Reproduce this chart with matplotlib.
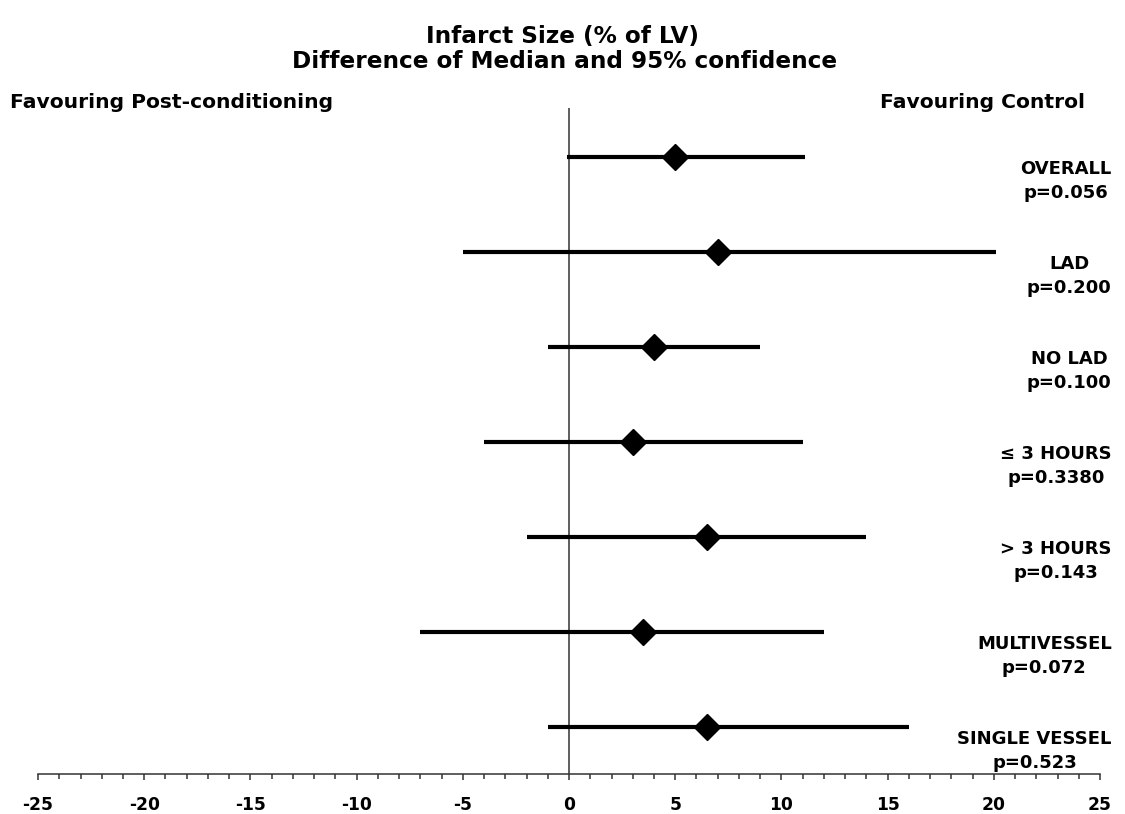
import numpy as np
import matplotlib
matplotlib.use("Agg")
import matplotlib.pyplot as plt
from matplotlib.ticker import MultipleLocator

plt.rcParams['font.family'] = ['DejaVu Sans']
plt.rcParams['font.weight'] = 'bold'

# data
groups = ['OVERALL', 'LAD', 'NO LAD', '\u2264 3 HOURS', '> 3 HOURS', 'MULTIVESSEL', 'SINGLE VESSEL']
pvals = ['p=0.056', 'p=0.200', 'p=0.100', 'p=0.3380', 'p=0.143', 'p=0.072', 'p=0.523']
median = [5.0, 7.0, 4.0, 3.0, 6.5, 3.5, 6.5]
ci_low = [-0.1, -5.0, -1.0, -4.0, -2.0, -7.0, -1.0]
ci_high = [11.1, 20.1, 9.0, 11.0, 14.0, 12.0, 16.0]
xticks = np.arange(-25, 26, 5)

fig = plt.figure(figsize=(11.25, 8.14), dpi=100)
ax = fig.add_axes([0.0338, 0.049, 0.944, 0.818])

ypos = np.arange(len(groups))
ax.hlines(ypos, ci_low, ci_high, color='black', lw=3.0, zorder=2)
ax.plot(median, ypos, 'D', color='black', ms=13, zorder=3)
ax.axvline(0, color='#333333', lw=1.1, zorder=1)

# group label + p value, second line centred under the first
for y, g, p in zip(ypos, groups, pvals):
    ax.text(25.55, y + 0.25, g + '\n' + p, ha='right', va='center', multialignment='center',
            linespacing=1.4, fontsize=13, fontweight='bold')

ax.set_xlim(-25, 25)
ax.set_ylim(6.495, -0.516)
ax.set_xticks(xticks)
ax.set_xticklabels([str(t) for t in xticks], fontsize=12.3, fontweight='bold')
ax.xaxis.set_minor_locator(MultipleLocator(1))
ax.tick_params(axis='x', which='major', direction='out', length=4.5, width=1.1, color='#333333', pad=11)
ax.tick_params(axis='x', which='minor', direction='out', length=3.8, width=1.1, color='#333333')
ax.set_yticks([])
for s in ['top', 'right', 'left']:
    ax.spines[s].set_visible(False)
ax.spines['bottom'].set_color('#333333')
ax.spines['bottom'].set_linewidth(1.1)
ax.patch.set_visible(False)

fig.text(0.5, 1 - 37 / 814, 'Infarct Size (% of LV)', ha='center', va='center', fontsize=16.7, fontweight='bold')
fig.text(0.502, 1 - 61 / 814, 'Difference of Median and 95% confidence', ha='center', va='center', fontsize=16.7, fontweight='bold')
fig.text(10 / 1125, 1 - 103 / 814, 'Favouring Post-conditioning', ha='left', va='center', fontsize=14.6, fontweight='bold')
fig.text(1085 / 1125, 1 - 103 / 814, 'Favouring Control', ha='right', va='center', fontsize=14.6, fontweight='bold')

fig.savefig('out.png', dpi=100)
